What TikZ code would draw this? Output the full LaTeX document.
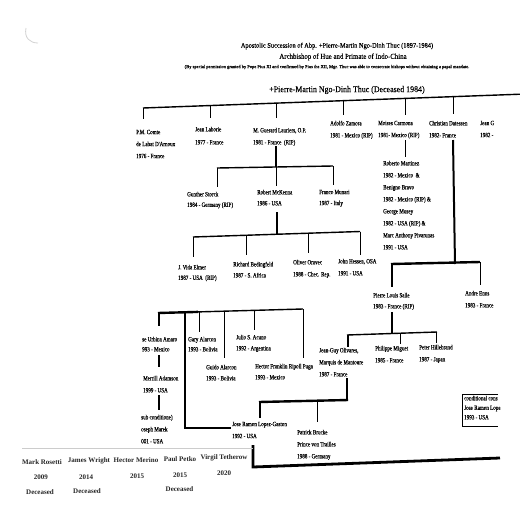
\documentclass[tikz,border=0pt]{standalone}
\usepackage{fontspec}
\setmainfont{Liberation Serif}
\newfontfamily\condf[FakeStretch=0.77,FakeBold=0.4]{Liberation Serif}
\newfontfamily\titlef[FakeStretch=0.9,FakeBold=0.3]{Liberation Serif}
\newfontfamily\permf[FakeBold=0.3]{Liberation Serif}
\newcommand\seg[6]{\coordinate (#1a) at (#2,#3);\coordinate (#1b) at (#4,#5);\draw[#6] (#1a) -- (#1b);}
\newcommand\bishop[5][12]{\node[pers=#1] (#2) at (#3,#4-2.4) {#5};}
\begin{document}
\begin{tikzpicture}[x=1pt,y=-1pt,
  pers/.style={anchor=north west, inner sep=0pt, align=left, font={\condf\fontsize{6.6}{#1}\selectfont}},
  pers/.default=12,
  ttl/.style={inner sep=0pt, anchor=center},
  bot/.style={inner sep=0pt, anchor=center, text=black!85, font={\bfseries\fontsize{7}{8}\selectfont}},
  ln/.style={line width=0.8pt, line cap=butt},
  mid/.style={line width=1.4pt},
  thk/.style={line width=2.4pt},
  tk3/.style={line width=2.8pt}]
\useasboundingbox[fill=white] (0,0) rectangle (520,512);

% punch-hole shadow
\draw[gray!35, line width=0.8pt] (26,28) .. controls (24,38) and (30,43) .. (38,43);

% titles
\node[ttl, font={\titlef\fontsize{7.1}{8}\selectfont}] (title) at (337,46) {Apostolic Succession of Abp. +Pierre-Martin Ngo-Dinh Thuc (1897-1984)};
\node[ttl, font={\titlef\fontsize{7.6}{8}\selectfont}] (arch) at (343,57) {Archbishop of Hue and Primate of Indo-China};
\node[ttl, font={\permf\fontsize{4.5}{5}\selectfont}] (perm) at (327,67) {(By special permission granted by Pope Pius XI and confirmed by Pius the XII, Mgr. Thuc was able to consecrate bishops without obtaining a papal mandate.};
\node[ttl, font={\titlef\fontsize{8.8}{9}\selectfont}] (thuc) at (347,90) {+Pierre-Martin Ngo-Dinh Thuc (Deceased 1984)};

% first generation
\bishop{comte}{136}{132}{P.M. Comte\\de Labat D'Arnoux\\1976 - France}
\bishop[13]{laborie}{195}{129}{Jean Laborie\\1977 - France}
\bishop{lauriers}{253}{130}{M. Guerard Lauriers, O.P.\\1981 - France\ \ (RIP)}
\bishop{zamora}{330}{123}{Adolfo Zamora\\1981 - Mexico (RIP)}
\bishop{carmona}{378}{123}{Moises Carmona\\1981- Mexico (RIP)}
\bishop{datessen}{429}{123}{Christian Datessen\\1982- France}
\bishop{jeang}{480}{123}{Jean G\\1982 -}

\seg{tb}{143}{108}{520}{94.2}{mid}
\seg{da}{143}{108}{143}{119}{ln}
\seg{db}{210}{105.5}{210}{118}{ln}
\seg{dc}{276}{103.1}{276}{118}{ln}
\seg{dd}{343}{100.7}{343}{115}{ln}
\seg{de}{405}{98.4}{405}{115}{ln}
\seg{df}{453}{96.7}{453}{114}{ln}

% Lauriers line
\bishop[10.5]{storck}{187}{194}{Gunther Storck\\1984 - Germany (RIP)}
\bishop[11]{mckenna}{257}{192}{Robert McKenna\\1986 - USA}
\bishop[11]{munari}{319}{192}{Franco Munari\\1987 - Italy}
\seg{la}{276}{146}{276}{167}{mid}
\seg{lb}{217}{168}{333}{166}{mid}
\seg{lc}{217}{168}{217}{187}{ln}
\seg{ld}{276}{167}{276}{186}{ln}
\seg{le}{333}{166}{333}{185}{ln}

% McKenna line
\bishop[10.5]{elmer}{178}{267}{J. Vida Elmer\\1987 - USA\ \ (RIP)}
\bishop[11]{bedingfeld}{233}{264}{Richard Bedingfeld\\1987 - S.~Africa}
\bishop[12]{oravec}{293}{262}{Oliver Oravec\\1988 - Chec. Rep.}
\bishop[12]{hessen}{338}{261}{John Hessen, OSA\\1991 - USA}
\seg{ma}{277}{212}{277}{234}{mid}
\seg{mb}{193}{237}{360}{231.5}{mid}
\seg{mc}{193}{237}{193}{257}{ln}
\seg{md}{246}{235.3}{246}{255}{ln}
\seg{me}{308}{233.2}{308}{253}{ln}
\seg{mf}{360}{231.5}{360}{255}{ln}

% Carmona line
\bishop{martinez}{383}{163}{Roberto Martinez\\1982 - Mexico\ \ \&\\Benigno Bravo\\1982 - Mexico (RIP) \&\\George Musey\\1982 - USA (RIP) \&\\Marc Anthony Pivarunas\\1991 - USA}
\seg{ca}{405}{140}{405}{157}{ln}

% Datessen line
\bishop[11]{salle}{373}{295}{Pierre Louis Salle\\1983 - France (RIP)}
\bishop[12]{enns}{465}{293}{Andre Enns\\1983 - France}
\seg{xa}{453}{140}{455}{264}{line width=2pt}
\seg{xb}{391}{264}{480}{262}{thk}
\seg{xc}{392}{264}{392}{287}{line width=1.8pt}
\seg{xd}{480}{262}{480}{285}{ln}

% Salle line
\bishop{olivares}{319}{350}{Jean-Guy Olivares,\\Marquis de Mantoure\\1987 - France}
\bishop{miguet}{375}{348}{Philippe Miguet\\1985 - France}
\bishop{hillebrand}{419}{347}{Peter Hillebrand\\1987 - Japan}
\seg{sa}{392}{312}{392}{334}{mid}
\seg{sb}{347}{335}{437}{332}{mid}
\seg{sc}{348}{335}{348}{347}{line width=2pt}
\seg{sd}{400}{333.3}{400}{344}{ln}
\seg{se}{436}{332}{436}{343}{ln}

% Olivares line
\bishop{lopez}{232}{424}{Jose Ramon Lopez-Gaston\\1992 - USA}
\bishop{brucke}{297}{432}{Patrick Brucke\\Prince von Trailles\\1988 - Germany}
\seg{oa}{347}{378}{347}{401}{thk}
\seg{ob}{259}{402}{348.2}{400}{thk}
\seg{oc}{260}{402}{260}{418}{thk}
\seg{od}{317}{401}{317}{422}{ln}

% Lopez-Gaston consecrations
\bishop[10]{urbina}{142}{339}{se Urbina Amaro\\993 - Mexico}
\bishop{adamson}{143}{378}{Merrill Adamson\\1999 - USA}
\bishop{marek}{141}{417}{sub conditione)\\oseph Marek\\001 - USA}
\bishop[10]{gary}{188}{339}{Gary Alarcon\\1993 - Bolivia}
\bishop[11]{guido}{206}{367}{Guido Alarcon\\1993 - Bolivia}
\bishop[11]{acuno}{236}{337}{Julio S. Acuno\\1992 - Argentina}
\bishop[11]{ripoll}{255}{366}{Hector Franklin Ripoll Puga\\1993 - Mexico}
\seg{ga}{158}{313}{198}{311.9}{thk}
\seg{gb}{198}{311.9}{303}{309}{mid}
\seg{gc}{159}{313}{159}{326}{thk}
\coordinate (gv1) at (185,312.3);
\coordinate (gv2) at (185,428);
\coordinate (gv3) at (231,428);
\draw[thk] (gv1) -- (gv2) -- (gv3);
\seg{gd}{199}{311.9}{199}{332}{ln}
\seg{ge}{224}{311.2}{224}{358}{ln}
\seg{gf}{254}{310.3}{254}{330}{ln}
\seg{gg}{303}{309}{303}{358}{ln}
\seg{ua}{159}{355}{159}{367}{thk}
\seg{ub}{159}{395}{159}{410}{thk}

% Lopez-Gaston lower line
\coordinate (lg1) at (253,445);
\coordinate (lg2) at (253,467);
\coordinate (lg3) at (500,458);
\draw[tk3] (lg1) -- (lg2) -- (lg3);

% conditional box
\bishop[9.5]{cond}{464}{398}{conditional cons\\Jose Ramon Lope\\1993 - USA}
\coordinate (cb1) at (498,394);
\coordinate (cb2) at (462,394);
\coordinate (cb3) at (462,426);
\coordinate (cb4) at (498,426);
\draw[ln] (cb1) -- (cb2) -- (cb3) -- (cb4);

% bottom list
\seg{gl}{22}{448}{253}{448}{gray!40, line width=0.8pt}
\node[bot] (n1) at (42,461.7) {Mark Rosetti};
\node[bot] (n2) at (89,461) {James Wright};
\node[bot] (n3) at (136,460) {Hector Merino};
\node[bot] (n4) at (180,459) {Paul Petko};
\node[bot] (n5) at (224,457.7) {Virgil Tetherow};
\node[bot] (y1) at (41,477.3) {2009};
\node[bot] (y2) at (86,476.7) {2014};
\node[bot] (y3) at (137,475.7) {2015};
\node[bot] (y4) at (180,474.7) {2015};
\node[bot] (y5) at (224,473.3) {2020};
\node[bot] (c1) at (40,492.3) {Deceased};
\node[bot] (c2) at (87,491.3) {Deceased};
\node[bot] (c4) at (179.5,489.3) {Deceased};
\end{tikzpicture}
\end{document}
